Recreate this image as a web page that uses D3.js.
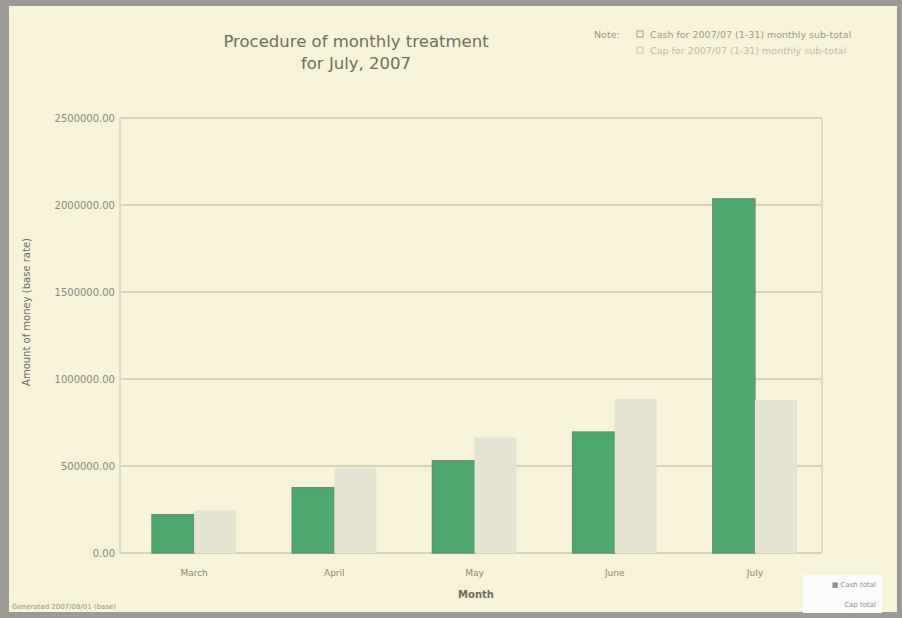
<!DOCTYPE html>
<html>
<head>
<meta charset="utf-8">
<script src="https://cdn.jsdelivr.net/npm/d3@7"></script>
<style>
  html, body { margin: 0; padding: 0; background: #a09e98; }
  svg { display: block; font-family: "DejaVu Sans", sans-serif; }
</style>
</head>
<body>
<div id="chart"></div>
<script>
// chart data
const months = ["March", "April", "May", "June", "July"];
const seriesNames = ["Cash for 2007/07 (1-31) monthly sub-total", "Cap for 2007/07 (1-31) monthly sub-total"];
const actualValues = [220000, 375000, 530000, 695000, 2035000];
const targetValues = [245000, 490000, 665000, 885000, 880000];
const yTicks = [0, 500000, 1000000, 1500000, 2000000, 2500000];

const width = 902, height = 618;
const margin = { top: 118, right: 80, bottom: 65, left: 120 };

const svg = d3.select("#chart").append("svg")
    .attr("width", width)
    .attr("height", height);

// grey frame round a cream panel
svg.append("rect")
    .attr("x", 0).attr("y", 0)
    .attr("width", width).attr("height", height)
    .attr("fill", "#9c9a95");
svg.append("rect")
    .attr("x", 9).attr("y", 6)
    .attr("width", width - 14).attr("height", height - 12)
    .attr("fill", "#f6f3d8");

// bars sit a little right of the frame centre in the original
const x0 = d3.scaleBand()
    .domain(months)
    .range([margin.left + 4, width - margin.right + 3])
    .paddingInner(0.4)
    .paddingOuter(0.2);

const x1 = d3.scaleBand()
    .domain([0, 1])
    .range([0, x0.bandwidth()]);

const y = d3.scaleLinear()
    .domain([0, 2500000])
    .range([height - margin.bottom, margin.top]);

// horizontal grid
svg.append("g")
    .selectAll("line")
    .data(yTicks)
    .join("line")
    .attr("x1", margin.left)
    .attr("x2", width - margin.right)
    .attr("y1", d => y(d))
    .attr("y2", d => y(d))
    .attr("stroke", "#d6d3b8")
    .attr("stroke-width", 2);

// plot frame sides
svg.append("line")
    .attr("x1", margin.left).attr("x2", margin.left)
    .attr("y1", margin.top).attr("y2", height - margin.bottom)
    .attr("stroke", "#dedbc2").attr("stroke-width", 2);
svg.append("line")
    .attr("x1", width - margin.right).attr("x2", width - margin.right)
    .attr("y1", margin.top).attr("y2", height - margin.bottom)
    .attr("stroke", "#dedbc2").attr("stroke-width", 2);

// y axis labels
svg.append("g")
    .selectAll("text")
    .data(yTicks)
    .join("text")
    .attr("x", margin.left - 5)
    .attr("y", d => y(d))
    .attr("dy", "0.35em")
    .attr("text-anchor", "end")
    .attr("font-size", 10)
    .attr("fill", "#8a8878")
    .text(d => d3.format(".2f")(d));

// bars
const groups = svg.append("g")
    .selectAll("g")
    .data(months)
    .join("g")
    .attr("transform", d => `translate(${x0(d)},0)`);

groups.append("rect")
    .attr("x", x1(0))
    .attr("width", x1.bandwidth())
    .attr("y", (d, i) => y(actualValues[i]))
    .attr("height", (d, i) => y(0) - y(actualValues[i]))
    .attr("fill", "#4ea76d")
    .attr("stroke", "#64946f")
    .attr("stroke-width", 1.5);

groups.append("rect")
    .attr("x", x1(1))
    .attr("width", x1.bandwidth())
    .attr("y", (d, i) => y(targetValues[i]))
    .attr("height", (d, i) => y(0) - y(targetValues[i]))
    .attr("fill", "#e5e4d1");

// x labels
svg.append("g")
    .selectAll("text")
    .data(months)
    .join("text")
    .attr("x", d => x0(d) + x0.bandwidth() / 2)
    .attr("y", height - margin.bottom + 23)
    .attr("text-anchor", "middle")
    .attr("font-size", 9)
    .attr("fill", "#8f8b72")
    .text(d => d);

svg.append("text")
    .attr("x", (margin.left + width - margin.right) / 2 + 5)
    .attr("y", height - 20)
    .attr("text-anchor", "middle")
    .attr("font-size", 10)
    .attr("font-weight", "bold")
    .attr("fill", "#6e6b58")
    .text("Month");

svg.append("text")
    .attr("transform", "translate(30,312) rotate(-90)")
    .attr("text-anchor", "middle")
    .attr("font-size", 10)
    .attr("fill", "#6e6b58")
    .text("Amount of money (base rate)");

// title
const title = svg.append("text")
    .attr("text-anchor", "middle")
    .attr("font-size", 16.5)
    .attr("fill", "#6f6e58");
title.append("tspan").attr("x", 356).attr("y", 47).text("Procedure of monthly treatment");
title.append("tspan").attr("x", 356).attr("y", 69).text("for July, 2007");

// legend, top right
const legend = svg.append("g").attr("font-size", 9.5).attr("fill", "#9a9782");
legend.append("text").attr("x", 594).attr("y", 38).text("Note:");
seriesNames.forEach((name, i) => {
    const ly = 35 + i * 16;
    legend.append("rect")
        .attr("x", 637).attr("y", ly - 4)
        .attr("width", 6).attr("height", 6)
        .attr("fill", "none")
        .attr("stroke", i === 0 ? "#a4a386" : "#c9c6ae");
    legend.append("text")
        .attr("x", 650).attr("y", ly + 3)
        .attr("fill", i === 0 ? "#9f9c84" : "#c3bda9")
        .text(name);
});

// small key box, bottom right
const key = svg.append("g");
key.append("rect")
    .attr("x", 803).attr("y", 575)
    .attr("width", 79).attr("height", 38)
    .attr("fill", "#fbfbfb");
key.append("text")
    .attr("x", 876).attr("y", 587)
    .attr("text-anchor", "end")
    .attr("font-size", 7)
    .attr("fill", "#8f8f98")
    .text("■ Cash total");
key.append("text")
    .attr("x", 876).attr("y", 607)
    .attr("text-anchor", "end")
    .attr("font-size", 7)
    .attr("fill", "#8f8f98")
    .text("Cap total");

// footer
svg.append("text")
    .attr("x", 12).attr("y", 609)
    .attr("font-size", 7)
    .attr("fill", "#9a977f")
    .text("Generated 2007/08/01 (base)");
</script>
</body>
</html>
